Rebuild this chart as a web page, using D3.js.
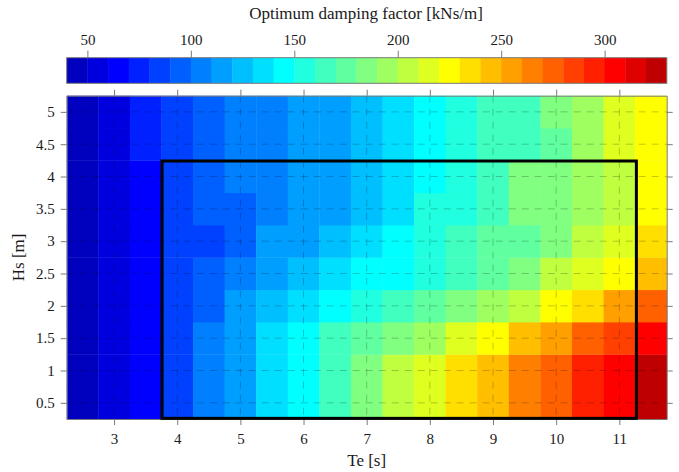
<!DOCTYPE html>
<html><head><meta charset="utf-8">
<script src="https://cdn.jsdelivr.net/npm/d3@7"></script>
<style>
body{margin:0;background:#fff}
svg text{font-family:"Liberation Serif","Times New Roman",serif;fill:#1a1a1a}
</style>
</head><body>
<svg id="chart" width="679" height="472"></svg>
<script>
// ---- data ----
const teValues = [2.5,3,3.5,4,4.5,5,5.5,6,6.5,7,7.5,8,8.5,9,9.5,10,10.5,11,11.5];
const hsValues = [0.5,1,1.5,2,2.5,3,3.5,4,4.5,5];
// optimum damping factor [kNs/m], one array per Hs, across Te
const damping_Hs0_5 = [45,55,65,85,105,115,135,145,165,185,205,215,235,245,265,275,295,305,325];
const damping_Hs1_0 = [44,54,64,84,104,114,134,144,164,184,204,214,234,244,264,274,294,304,324];
const damping_Hs1_5 = [45,55,65,85,105,115,135,145,165,175,185,195,215,225,245,255,275,285,305];
const damping_Hs2_0 = [45,55,65,85,95,115,125,135,145,155,165,175,185,195,205,225,235,255,275];
const damping_Hs2_5 = [45,55,65,85,95,105,115,125,135,145,145,155,165,175,185,205,215,225,245];
const damping_Hs3_0 = [45,55,65,85,85,95,115,115,125,135,145,155,165,175,175,185,205,215,235];
const damping_Hs3_5 = [45,55,65,85,95,95,105,115,115,125,135,155,155,165,185,185,195,205,225];
const damping_Hs4_0 = [45,55,65,85,95,105,105,115,115,125,135,145,155,165,185,185,195,205,225];
const damping_Hs4_5 = [45,55,75,85,95,105,105,115,115,125,135,145,155,165,165,175,195,215,225];
const damping_Hs5_0 = [45,55,75,85,95,105,105,115,115,125,135,145,155,165,165,185,195,215,225];
const dampingRows = [damping_Hs0_5,damping_Hs1_0,damping_Hs1_5,damping_Hs2_0,damping_Hs2_5,
                     damping_Hs3_0,damping_Hs3_5,damping_Hs4_0,damping_Hs4_5,damping_Hs5_0];
const xTicks = [3,4,5,6,7,8,9,10,11];
const yTicks = [0.5,1,1.5,2,2.5,3,3.5,4,4.5,5];
const cbTicks = [50,100,150,200,250,300];
const cbDomain = [40,330];
const nLevels = 29;
const region = {te0:3.76, te1:11.27, hs0:0.26, hs1:4.24};
const titleText = "Optimum damping factor [kNs/m]";
const xLabel = "Te [s]";
const yLabel = "Hs [m]";

// ---- jet colormap (MATLAB style, n levels) ----
function jet(m){
  const n = Math.ceil(m/4);
  const u = [];
  for(let i=1;i<=n;i++) u.push(i/n);
  for(let i=1;i<n;i++) u.push(1);
  for(let i=n;i>=1;i--) u.push(i/n);
  const off = Math.ceil(n/2) - (m%4===1?1:0);
  const R=new Array(m).fill(0),G=new Array(m).fill(0),B=new Array(m).fill(0);
  u.forEach(function(v,k){
    const g = off + k + 1, r = g + n, b = g - n;
    if(g>=1&&g<=m) G[g-1]=v;
    if(r>=1&&r<=m) R[r-1]=v;
    if(b>=1&&b<=m) B[b-1]=v;
  });
  return d3.range(m).map(function(i){return d3.rgb(R[i]*255,G[i]*255,B[i]*255).formatHex();});
}
const colors = jet(nLevels);

// ---- layout ----
const svg = d3.select("#chart");
const L = 66.7, R = 666.7, T = 95.7, Bm = 419;
const x = d3.scaleLinear().domain([2.25,11.75]).range([L,R]);
const y = d3.scaleLinear().domain([0.25,5.25]).range([Bm,T]);
const color = d3.scaleQuantize().domain(cbDomain).range(colors);
const gray = "#7a7a7a";

// heatmap cells
const cells = [];
hsValues.forEach(function(hs,i){teValues.forEach(function(te,j){cells.push({te:te,hs:hs,v:dampingRows[i][j]});});});
svg.append("g").selectAll("rect").data(cells).join("rect")
  .attr("x",function(c){return x(c.te-0.25);})
  .attr("y",function(c){return y(c.hs+0.25);})
  .attr("width",function(c){return x(c.te+0.25)-x(c.te-0.25)+0.4;})
  .attr("height",function(c){return y(c.hs-0.25)-y(c.hs+0.25)+0.4;})
  .attr("fill",function(c){return color(c.v);});

// grid
const grid = svg.append("g").attr("stroke","#000").attr("stroke-opacity",0.22)
  .attr("stroke-dasharray","7,6").attr("stroke-width",1);
xTicks.forEach(function(t){grid.append("line").attr("x1",x(t)).attr("x2",x(t)).attr("y1",T).attr("y2",Bm);});
yTicks.forEach(function(t){grid.append("line").attr("x1",L).attr("x2",R).attr("y1",y(t)).attr("y2",y(t));});

// axes
function styleAxis(g, labels){
  g.select(".domain").attr("stroke",gray);
  g.selectAll(".tick line").attr("stroke",gray);
  g.selectAll(".tick text").attr("font-size","15px").attr("fill","#1a1a1a")
    .attr("font-family","Liberation Serif, Times New Roman, serif");
  if(!labels) g.selectAll(".tick text").remove();
}
svg.append("g").attr("transform","translate(0,"+Bm+")")
  .call(d3.axisBottom(x).tickValues(xTicks).tickSize(6).tickSizeOuter(0).tickPadding(8))
  .call(function(g){styleAxis(g,true);});
svg.append("g").attr("transform","translate(0,"+T+")")
  .call(d3.axisTop(x).tickValues(xTicks).tickSize(6).tickSizeOuter(0))
  .call(function(g){styleAxis(g,false);});
svg.append("g").attr("transform","translate("+L+",0)")
  .call(d3.axisLeft(y).tickValues(yTicks).tickSize(6).tickSizeOuter(0).tickPadding(6).tickFormat(d3.format("")))
  .call(function(g){styleAxis(g,true);});
svg.append("g").attr("transform","translate("+R+",0)")
  .call(d3.axisRight(y).tickValues(yTicks).tickSize(6).tickSizeOuter(0))
  .call(function(g){styleAxis(g,false);});

// highlight rectangle
svg.append("rect")
  .attr("x",x(region.te0)).attr("y",y(region.hs1))
  .attr("width",x(region.te1)-x(region.te0)).attr("height",y(region.hs0)-y(region.hs1))
  .attr("fill","none").attr("stroke","#000").attr("stroke-width",3);

// axis titles
svg.append("text").attr("x",(L+R)/2).attr("y",466).attr("text-anchor","middle")
  .attr("font-size","17px").text(xLabel);
svg.append("text").attr("transform","translate(24,"+((T+Bm)/2)+") rotate(-90)")
  .attr("text-anchor","middle").attr("font-size","17px").text(yLabel);

// colorbar
const cbT = 57.7, cbB = 83.3;
const cx = d3.scaleLinear().domain(cbDomain).range([L,R]);
const step = (cbDomain[1]-cbDomain[0])/nLevels;
const levels = d3.range(nLevels).map(function(i){return cbDomain[0]+i*step;});
svg.append("g").selectAll("rect").data(levels).join("rect")
  .attr("x",function(v){return cx(v);})
  .attr("y",cbT)
  .attr("width",function(v){return cx(Math.min(v+step,cbDomain[1]))-cx(v)+0.4;})
  .attr("height",cbB-cbT)
  .attr("fill",function(v){return color(v+step/2);});
svg.append("rect").attr("x",L).attr("y",cbT).attr("width",R-L).attr("height",cbB-cbT)
  .attr("fill","none").attr("stroke",gray);
svg.append("g").attr("transform","translate(0,"+cbT+")")
  .call(d3.axisTop(cx).tickValues(cbTicks).tickSize(7).tickSizeOuter(0).tickPadding(6))
  .call(function(g){styleAxis(g,true); g.select(".domain").remove();});
svg.append("text").attr("x",366).attr("y",19).attr("text-anchor","middle")
  .attr("font-size","17px").text(titleText);
</script>
</body></html>
